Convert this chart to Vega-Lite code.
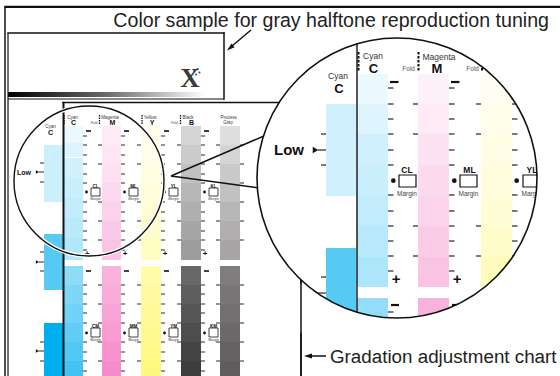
{
"$schema": "https://vega.github.io/schema/vega-lite/v6.json",
"width": 560, "height": 376, "autosize": {"type": "none"}, "padding": 0, "background": "white",
"config": {"view": {"stroke": null}, "text": {"font": "Liberation Sans"}},
"datasets": {
"R": [
{"x":64,"x2":83,"y":126,"y2":143,"ink":"C","d":8,"p":"s"},
{"x":64,"x2":83,"y":143,"y2":157,"ink":"C","d":14,"p":"s"},
{"x":64,"x2":83,"y":158,"y2":178,"ink":"C","d":18,"p":"s"},
{"x":64,"x2":83,"y":178,"y2":198,"ink":"C","d":21,"p":"s"},
{"x":64,"x2":83,"y":198,"y2":218,"ink":"C","d":24,"p":"s"},
{"x":64,"x2":83,"y":218,"y2":238,"ink":"C","d":27,"p":"s"},
{"x":64,"x2":83,"y":238,"y2":260,"ink":"C","d":30,"p":"s"},
{"x":64,"x2":83,"y":266,"y2":285,"ink":"C","d":44,"p":"s"},
{"x":64,"x2":83,"y":285,"y2":304,"ink":"C","d":50,"p":"s"},
{"x":64,"x2":83,"y":304,"y2":323,"ink":"C","d":56,"p":"s"},
{"x":64,"x2":83,"y":323,"y2":342,"ink":"C","d":62,"p":"s"},
{"x":64,"x2":83,"y":342,"y2":361,"ink":"C","d":68,"p":"s"},
{"x":64,"x2":83,"y":361,"y2":376,"ink":"C","d":74,"p":"s"},
{"x":102,"x2":121,"y":126,"y2":145,"ink":"M","d":8,"p":"s"},
{"x":102,"x2":121,"y":145,"y2":164,"ink":"M","d":10,"p":"s"},
{"x":102,"x2":121,"y":164,"y2":183,"ink":"M","d":12,"p":"s"},
{"x":102,"x2":121,"y":183,"y2":202,"ink":"M","d":15,"p":"s"},
{"x":102,"x2":121,"y":202,"y2":221,"ink":"M","d":18,"p":"s"},
{"x":102,"x2":121,"y":221,"y2":240,"ink":"M","d":21,"p":"s"},
{"x":102,"x2":121,"y":240,"y2":260,"ink":"M","d":24,"p":"s"},
{"x":102,"x2":121,"y":266,"y2":285,"ink":"M","d":30,"p":"s"},
{"x":102,"x2":121,"y":285,"y2":304,"ink":"M","d":33,"p":"s"},
{"x":102,"x2":121,"y":304,"y2":323,"ink":"M","d":36,"p":"s"},
{"x":102,"x2":121,"y":323,"y2":342,"ink":"M","d":39,"p":"s"},
{"x":102,"x2":121,"y":342,"y2":361,"ink":"M","d":42,"p":"s"},
{"x":102,"x2":121,"y":361,"y2":376,"ink":"M","d":45,"p":"s"},
{"x":141,"x2":161,"y":126,"y2":145,"ink":"Y","d":7,"p":"s"},
{"x":141,"x2":161,"y":145,"y2":164,"ink":"Y","d":9,"p":"s"},
{"x":141,"x2":161,"y":164,"y2":183,"ink":"Y","d":11,"p":"s"},
{"x":141,"x2":161,"y":183,"y2":202,"ink":"Y","d":14,"p":"s"},
{"x":141,"x2":161,"y":202,"y2":221,"ink":"Y","d":17,"p":"s"},
{"x":141,"x2":161,"y":221,"y2":240,"ink":"Y","d":20,"p":"s"},
{"x":141,"x2":161,"y":240,"y2":260,"ink":"Y","d":24,"p":"s"},
{"x":141,"x2":161,"y":266,"y2":285,"ink":"Y","d":34,"p":"s"},
{"x":141,"x2":161,"y":285,"y2":304,"ink":"Y","d":37,"p":"s"},
{"x":141,"x2":161,"y":304,"y2":323,"ink":"Y","d":40,"p":"s"},
{"x":141,"x2":161,"y":323,"y2":342,"ink":"Y","d":43,"p":"s"},
{"x":141,"x2":161,"y":342,"y2":361,"ink":"Y","d":47,"p":"s"},
{"x":141,"x2":161,"y":361,"y2":376,"ink":"Y","d":50,"p":"s"},
{"x":181,"x2":201,"y":126,"y2":145,"ink":"K","d":19,"p":"s"},
{"x":181,"x2":201,"y":145,"y2":164,"ink":"K","d":23,"p":"s"},
{"x":181,"x2":201,"y":164,"y2":183,"ink":"K","d":28,"p":"s"},
{"x":181,"x2":201,"y":183,"y2":202,"ink":"K","d":32,"p":"s"},
{"x":181,"x2":201,"y":202,"y2":221,"ink":"K","d":36,"p":"s"},
{"x":181,"x2":201,"y":221,"y2":240,"ink":"K","d":40,"p":"s"},
{"x":181,"x2":201,"y":240,"y2":260,"ink":"K","d":44,"p":"s"},
{"x":181,"x2":201,"y":266,"y2":285,"ink":"K","d":68,"p":"s"},
{"x":181,"x2":201,"y":285,"y2":304,"ink":"K","d":72,"p":"s"},
{"x":181,"x2":201,"y":304,"y2":323,"ink":"K","d":76,"p":"s"},
{"x":181,"x2":201,"y":323,"y2":342,"ink":"K","d":80,"p":"s"},
{"x":181,"x2":201,"y":342,"y2":361,"ink":"K","d":84,"p":"s"},
{"x":181,"x2":201,"y":361,"y2":376,"ink":"K","d":87,"p":"s"},
{"x":220,"x2":240,"y":126,"y2":145,"ink":"K","d":15,"p":"s"},
{"x":220,"x2":240,"y":145,"y2":164,"ink":"K","d":19,"p":"s"},
{"x":220,"x2":240,"y":164,"y2":183,"ink":"K","d":24,"p":"s"},
{"x":220,"x2":240,"y":183,"y2":202,"ink":"K","d":28,"p":"s"},
{"x":220,"x2":240,"y":202,"y2":221,"ink":"K","d":32,"p":"s"},
{"x":220,"x2":240,"y":221,"y2":240,"ink":"K","d":36,"p":"s"},
{"x":220,"x2":240,"y":240,"y2":260,"ink":"K","d":40,"p":"s"},
{"x":220,"x2":240,"y":266,"y2":285,"ink":"K","d":58,"p":"s"},
{"x":220,"x2":240,"y":285,"y2":304,"ink":"K","d":61,"p":"s"},
{"x":220,"x2":240,"y":304,"y2":323,"ink":"K","d":64,"p":"s"},
{"x":220,"x2":240,"y":323,"y2":342,"ink":"K","d":67,"p":"s"},
{"x":220,"x2":240,"y":342,"y2":361,"ink":"K","d":70,"p":"s"},
{"x":220,"x2":240,"y":361,"y2":376,"ink":"K","d":72,"p":"s"},
{"x":44,"x2":63,"y":145,"y2":202,"ink":"C","d":20,"p":"s"},
{"x":44,"x2":63,"y":234,"y2":290,"ink":"C","d":66,"p":"s"},
{"x":44,"x2":63,"y":323,"y2":376,"ink":"C","d":100,"p":"s"},
{"x":326,"x2":356,"y":104,"y2":196,"ink":"C","d":19,"p":"b"},
{"x":326,"x2":356,"y":248,"y2":325,"ink":"C","d":66,"p":"b"},
{"x":357,"x2":388,"y":74,"y2":104,"ink":"C","d":8,"p":"b"},
{"x":357,"x2":388,"y":104,"y2":134,"ink":"C","d":13,"p":"b"},
{"x":357,"x2":388,"y":134,"y2":165,"ink":"C","d":19,"p":"b"},
{"x":357,"x2":388,"y":165,"y2":196,"ink":"C","d":21,"p":"b"},
{"x":357,"x2":388,"y":196,"y2":226,"ink":"C","d":24,"p":"b"},
{"x":357,"x2":388,"y":226,"y2":257,"ink":"C","d":28,"p":"b"},
{"x":357,"x2":388,"y":257,"y2":287,"ink":"C","d":32,"p":"b"},
{"x":357,"x2":388,"y":298,"y2":325,"ink":"C","d":42,"p":"b"},
{"x":418,"x2":449,"y":74,"y2":104,"ink":"M","d":6,"p":"b"},
{"x":418,"x2":449,"y":104,"y2":134,"ink":"M","d":8,"p":"b"},
{"x":418,"x2":449,"y":134,"y2":165,"ink":"M","d":11,"p":"b"},
{"x":418,"x2":449,"y":165,"y2":196,"ink":"M","d":14,"p":"b"},
{"x":418,"x2":449,"y":196,"y2":226,"ink":"M","d":17,"p":"b"},
{"x":418,"x2":449,"y":226,"y2":257,"ink":"M","d":20,"p":"b"},
{"x":418,"x2":449,"y":257,"y2":287,"ink":"M","d":24,"p":"b"},
{"x":418,"x2":449,"y":298,"y2":325,"ink":"M","d":30,"p":"b"},
{"x":481,"x2":512,"y":74,"y2":104,"ink":"Y","d":5,"p":"b"},
{"x":481,"x2":512,"y":104,"y2":134,"ink":"Y","d":8,"p":"b"},
{"x":481,"x2":512,"y":134,"y2":165,"ink":"Y","d":10,"p":"b"},
{"x":481,"x2":512,"y":165,"y2":196,"ink":"Y","d":13,"p":"b"},
{"x":481,"x2":512,"y":196,"y2":226,"ink":"Y","d":16,"p":"b"},
{"x":481,"x2":512,"y":226,"y2":257,"ink":"Y","d":21,"p":"b"},
{"x":481,"x2":512,"y":257,"y2":287,"ink":"Y","d":27,"p":"b"}
],
"G": [{"x":8,"x2":205,"y":92,"y2":97}],
"F": [{"x":4.5,"x2":560,"y":5.8,"y2":8}],
"L": [
{"x":5,"y":7,"x2":5,"y2":376,"p":"f15"},
{"x":8,"y":33,"x2":224,"y2":33,"p":"f15"},
{"x":224,"y":33,"x2":224,"y2":99,"p":"f15"},
{"x":63,"y":102.5,"x2":301,"y2":102.5,"p":"f15"},
{"x":301,"y":102.5,"x2":301,"y2":376,"p":"f15"},
{"x":8,"y":33,"x2":8,"y2":376,"p":"f12"},
{"x":8,"y":99,"x2":224,"y2":99,"p":"f12"},
{"x":63.5,"y":102,"x2":63.5,"y2":376,"p":"f2"},
{"x":171,"y":176,"x2":264,"y2":136,"p":"w"},
{"x":171,"y":176,"x2":259,"y2":188,"p":"w"},
{"x":301,"y":280,"x2":301,"y2":376,"p":"post"},
{"x":251,"y":30,"x2":232,"y2":46,"p":"post"},
{"x":311,"y":356,"x2":326,"y2":356,"p":"post"},
{"x":83,"y":136,"x2":87,"y2":136,"p":"ts"},{"x":83,"y":145,"x2":87,"y2":145,"p":"ts"},{"x":83,"y":155,"x2":87,"y2":155,"p":"ts"},{"x":83,"y":164,"x2":87,"y2":164,"p":"ts"},{"x":83,"y":174,"x2":87,"y2":174,"p":"ts"},{"x":83,"y":183,"x2":87,"y2":183,"p":"ts"},{"x":83,"y":202,"x2":87,"y2":202,"p":"ts"},{"x":83,"y":212,"x2":87,"y2":212,"p":"ts"},{"x":83,"y":221,"x2":87,"y2":221,"p":"ts"},{"x":83,"y":231,"x2":87,"y2":231,"p":"ts"},{"x":83,"y":240,"x2":87,"y2":240,"p":"ts"},{"x":83,"y":250,"x2":87,"y2":250,"p":"ts"},
{"x":83,"y":285,"x2":87,"y2":285,"p":"ts"},{"x":83,"y":294,"x2":87,"y2":294,"p":"ts"},{"x":83,"y":304,"x2":87,"y2":304,"p":"ts"},{"x":83,"y":313,"x2":87,"y2":313,"p":"ts"},{"x":83,"y":323,"x2":87,"y2":323,"p":"ts"},{"x":83,"y":342,"x2":87,"y2":342,"p":"ts"},{"x":83,"y":352,"x2":87,"y2":352,"p":"ts"},{"x":83,"y":361,"x2":87,"y2":361,"p":"ts"},{"x":83,"y":371,"x2":87,"y2":371,"p":"ts"},
{"x":121,"y":136,"x2":125,"y2":136,"p":"ts"},{"x":121,"y":145,"x2":125,"y2":145,"p":"ts"},{"x":121,"y":155,"x2":125,"y2":155,"p":"ts"},{"x":121,"y":164,"x2":125,"y2":164,"p":"ts"},{"x":121,"y":174,"x2":125,"y2":174,"p":"ts"},{"x":121,"y":183,"x2":125,"y2":183,"p":"ts"},{"x":121,"y":202,"x2":125,"y2":202,"p":"ts"},{"x":121,"y":212,"x2":125,"y2":212,"p":"ts"},{"x":121,"y":221,"x2":125,"y2":221,"p":"ts"},{"x":121,"y":231,"x2":125,"y2":231,"p":"ts"},{"x":121,"y":240,"x2":125,"y2":240,"p":"ts"},{"x":121,"y":250,"x2":125,"y2":250,"p":"ts"},
{"x":121,"y":285,"x2":125,"y2":285,"p":"ts"},{"x":121,"y":294,"x2":125,"y2":294,"p":"ts"},{"x":121,"y":304,"x2":125,"y2":304,"p":"ts"},{"x":121,"y":313,"x2":125,"y2":313,"p":"ts"},{"x":121,"y":323,"x2":125,"y2":323,"p":"ts"},{"x":121,"y":342,"x2":125,"y2":342,"p":"ts"},{"x":121,"y":352,"x2":125,"y2":352,"p":"ts"},{"x":121,"y":361,"x2":125,"y2":361,"p":"ts"},{"x":121,"y":371,"x2":125,"y2":371,"p":"ts"},
{"x":161,"y":136,"x2":165,"y2":136,"p":"ts"},{"x":161,"y":145,"x2":165,"y2":145,"p":"ts"},{"x":161,"y":155,"x2":165,"y2":155,"p":"ts"},{"x":161,"y":164,"x2":165,"y2":164,"p":"ts"},{"x":161,"y":174,"x2":165,"y2":174,"p":"ts"},{"x":161,"y":183,"x2":165,"y2":183,"p":"ts"},{"x":161,"y":202,"x2":165,"y2":202,"p":"ts"},{"x":161,"y":212,"x2":165,"y2":212,"p":"ts"},{"x":161,"y":221,"x2":165,"y2":221,"p":"ts"},{"x":161,"y":231,"x2":165,"y2":231,"p":"ts"},{"x":161,"y":240,"x2":165,"y2":240,"p":"ts"},{"x":161,"y":250,"x2":165,"y2":250,"p":"ts"},
{"x":161,"y":285,"x2":165,"y2":285,"p":"ts"},{"x":161,"y":294,"x2":165,"y2":294,"p":"ts"},{"x":161,"y":304,"x2":165,"y2":304,"p":"ts"},{"x":161,"y":313,"x2":165,"y2":313,"p":"ts"},{"x":161,"y":323,"x2":165,"y2":323,"p":"ts"},{"x":161,"y":342,"x2":165,"y2":342,"p":"ts"},{"x":161,"y":352,"x2":165,"y2":352,"p":"ts"},{"x":161,"y":361,"x2":165,"y2":361,"p":"ts"},{"x":161,"y":371,"x2":165,"y2":371,"p":"ts"},
{"x":201,"y":136,"x2":205,"y2":136,"p":"ts"},{"x":201,"y":145,"x2":205,"y2":145,"p":"ts"},{"x":201,"y":155,"x2":205,"y2":155,"p":"ts"},{"x":201,"y":164,"x2":205,"y2":164,"p":"ts"},{"x":201,"y":174,"x2":205,"y2":174,"p":"ts"},{"x":201,"y":183,"x2":205,"y2":183,"p":"ts"},{"x":201,"y":202,"x2":205,"y2":202,"p":"ts"},{"x":201,"y":212,"x2":205,"y2":212,"p":"ts"},{"x":201,"y":221,"x2":205,"y2":221,"p":"ts"},{"x":201,"y":231,"x2":205,"y2":231,"p":"ts"},{"x":201,"y":240,"x2":205,"y2":240,"p":"ts"},{"x":201,"y":250,"x2":205,"y2":250,"p":"ts"},
{"x":201,"y":285,"x2":205,"y2":285,"p":"ts"},{"x":201,"y":294,"x2":205,"y2":294,"p":"ts"},{"x":201,"y":304,"x2":205,"y2":304,"p":"ts"},{"x":201,"y":313,"x2":205,"y2":313,"p":"ts"},{"x":201,"y":323,"x2":205,"y2":323,"p":"ts"},{"x":201,"y":342,"x2":205,"y2":342,"p":"ts"},{"x":201,"y":352,"x2":205,"y2":352,"p":"ts"},{"x":201,"y":361,"x2":205,"y2":361,"p":"ts"},{"x":201,"y":371,"x2":205,"y2":371,"p":"ts"},
{"x":240,"y":145,"x2":244,"y2":145,"p":"ts"},{"x":240,"y":164,"x2":244,"y2":164,"p":"ts"},{"x":240,"y":183,"x2":244,"y2":183,"p":"ts"},{"x":240,"y":202,"x2":244,"y2":202,"p":"ts"},{"x":240,"y":221,"x2":244,"y2":221,"p":"ts"},{"x":240,"y":240,"x2":244,"y2":240,"p":"ts"},{"x":240,"y":285,"x2":244,"y2":285,"p":"ts"},{"x":240,"y":304,"x2":244,"y2":304,"p":"ts"},{"x":240,"y":323,"x2":244,"y2":323,"p":"ts"},{"x":240,"y":342,"x2":244,"y2":342,"p":"ts"},{"x":240,"y":361,"x2":244,"y2":361,"p":"ts"},
{"x":98,"y":145,"x2":102,"y2":145,"p":"ts"},{"x":98,"y":164,"x2":102,"y2":164,"p":"ts"},{"x":98,"y":202,"x2":102,"y2":202,"p":"ts"},{"x":98,"y":221,"x2":102,"y2":221,"p":"ts"},{"x":98,"y":240,"x2":102,"y2":240,"p":"ts"},{"x":98,"y":285,"x2":102,"y2":285,"p":"ts"},{"x":98,"y":304,"x2":102,"y2":304,"p":"ts"},{"x":98,"y":323,"x2":102,"y2":323,"p":"ts"},{"x":98,"y":342,"x2":102,"y2":342,"p":"ts"},{"x":98,"y":361,"x2":102,"y2":361,"p":"ts"},
{"x":137,"y":145,"x2":141,"y2":145,"p":"ts"},{"x":137,"y":164,"x2":141,"y2":164,"p":"ts"},{"x":137,"y":202,"x2":141,"y2":202,"p":"ts"},{"x":137,"y":221,"x2":141,"y2":221,"p":"ts"},{"x":137,"y":240,"x2":141,"y2":240,"p":"ts"},{"x":137,"y":285,"x2":141,"y2":285,"p":"ts"},{"x":137,"y":304,"x2":141,"y2":304,"p":"ts"},{"x":137,"y":323,"x2":141,"y2":323,"p":"ts"},{"x":137,"y":342,"x2":141,"y2":342,"p":"ts"},{"x":137,"y":361,"x2":141,"y2":361,"p":"ts"},
{"x":177,"y":145,"x2":181,"y2":145,"p":"ts"},{"x":177,"y":164,"x2":181,"y2":164,"p":"ts"},{"x":177,"y":202,"x2":181,"y2":202,"p":"ts"},{"x":177,"y":221,"x2":181,"y2":221,"p":"ts"},{"x":177,"y":240,"x2":181,"y2":240,"p":"ts"},{"x":177,"y":285,"x2":181,"y2":285,"p":"ts"},{"x":177,"y":304,"x2":181,"y2":304,"p":"ts"},{"x":177,"y":323,"x2":181,"y2":323,"p":"ts"},{"x":177,"y":342,"x2":181,"y2":342,"p":"ts"},{"x":177,"y":361,"x2":181,"y2":361,"p":"ts"},
{"x":216,"y":145,"x2":220,"y2":145,"p":"ts"},{"x":216,"y":164,"x2":220,"y2":164,"p":"ts"},{"x":216,"y":202,"x2":220,"y2":202,"p":"ts"},{"x":216,"y":221,"x2":220,"y2":221,"p":"ts"},{"x":216,"y":240,"x2":220,"y2":240,"p":"ts"},{"x":216,"y":285,"x2":220,"y2":285,"p":"ts"},{"x":216,"y":304,"x2":220,"y2":304,"p":"ts"},{"x":216,"y":323,"x2":220,"y2":323,"p":"ts"},{"x":216,"y":342,"x2":220,"y2":342,"p":"ts"},{"x":216,"y":361,"x2":220,"y2":361,"p":"ts"},
{"x":40,"y":163,"x2":44,"y2":163,"p":"ts"},{"x":40,"y":182,"x2":44,"y2":182,"p":"ts"},{"x":40,"y":252,"x2":44,"y2":252,"p":"ts"},{"x":40,"y":271,"x2":44,"y2":271,"p":"ts"},{"x":40,"y":342,"x2":44,"y2":342,"p":"ts"},{"x":40,"y":361,"x2":44,"y2":361,"p":"ts"},
{"x":39,"y":172,"x2":44,"y2":172,"p":"ts"},{"x":39,"y":262,"x2":44,"y2":262,"p":"ts"},{"x":39,"y":351,"x2":44,"y2":351,"p":"ts"},
{"x":86,"y":131,"x2":91,"y2":131,"p":"ds"},{"x":124,"y":131,"x2":129,"y2":131,"p":"ds"},{"x":164,"y":131,"x2":169,"y2":131,"p":"ds"},{"x":204,"y":131,"x2":209,"y2":131,"p":"ds"},
{"x":86,"y":271,"x2":91,"y2":271,"p":"ds"},{"x":124,"y":271,"x2":129,"y2":271,"p":"ds"},{"x":164,"y":271,"x2":169,"y2":271,"p":"ds"},{"x":204,"y":271,"x2":209,"y2":271,"p":"ds"},
{"x":64,"y":115,"x2":64,"y2":124,"p":"fs"},{"x":99.5,"y":115,"x2":99.5,"y2":124,"p":"fs"},{"x":142,"y":115,"x2":142,"y2":124,"p":"fs"},{"x":180.5,"y":115,"x2":180.5,"y2":124,"p":"fs"},
{"x":357,"y":44,"x2":357,"y2":312,"p":"vb"},
{"x":358.5,"y":52,"x2":358.5,"y2":72,"p":"fb"},{"x":418.5,"y":52,"x2":418.5,"y2":72,"p":"fb"},{"x":482,"y":52,"x2":482,"y2":72,"p":"fb"},
{"x":390,"y":82,"x2":398.5,"y2":82,"p":"db"},{"x":451,"y":82,"x2":459.5,"y2":82,"p":"db"},{"x":514,"y":82,"x2":522.5,"y2":82,"p":"db"},{"x":391,"y":305,"x2":399,"y2":305,"p":"db"},{"x":452,"y":305,"x2":460,"y2":305,"p":"db"},
{"x":388,"y":88,"x2":393.5,"y2":88,"p":"tb"},{"x":388,"y":104,"x2":393.5,"y2":104,"p":"tb"},{"x":388,"y":119,"x2":393.5,"y2":119,"p":"tb"},{"x":388,"y":134,"x2":393.5,"y2":134,"p":"tb"},{"x":388,"y":150,"x2":393.5,"y2":150,"p":"tb"},{"x":388,"y":165,"x2":393.5,"y2":165,"p":"tb"},{"x":388,"y":195,"x2":393.5,"y2":195,"p":"tb"},{"x":388,"y":211,"x2":393.5,"y2":211,"p":"tb"},{"x":388,"y":226,"x2":393.5,"y2":226,"p":"tb"},{"x":388,"y":241,"x2":393.5,"y2":241,"p":"tb"},{"x":388,"y":256,"x2":393.5,"y2":256,"p":"tb"},{"x":388,"y":271,"x2":393.5,"y2":271,"p":"tb"},{"x":388,"y":312,"x2":393.5,"y2":312,"p":"tb"},
{"x":449,"y":88,"x2":454.5,"y2":88,"p":"tb"},{"x":449,"y":104,"x2":454.5,"y2":104,"p":"tb"},{"x":449,"y":119,"x2":454.5,"y2":119,"p":"tb"},{"x":449,"y":134,"x2":454.5,"y2":134,"p":"tb"},{"x":449,"y":150,"x2":454.5,"y2":150,"p":"tb"},{"x":449,"y":165,"x2":454.5,"y2":165,"p":"tb"},{"x":449,"y":195,"x2":454.5,"y2":195,"p":"tb"},{"x":449,"y":211,"x2":454.5,"y2":211,"p":"tb"},{"x":449,"y":226,"x2":454.5,"y2":226,"p":"tb"},{"x":449,"y":241,"x2":454.5,"y2":241,"p":"tb"},{"x":449,"y":256,"x2":454.5,"y2":256,"p":"tb"},{"x":449,"y":271,"x2":454.5,"y2":271,"p":"tb"},{"x":449,"y":312,"x2":454.5,"y2":312,"p":"tb"},
{"x":512,"y":88,"x2":517.5,"y2":88,"p":"tb"},{"x":512,"y":104,"x2":517.5,"y2":104,"p":"tb"},{"x":512,"y":119,"x2":517.5,"y2":119,"p":"tb"},{"x":512,"y":134,"x2":517.5,"y2":134,"p":"tb"},{"x":512,"y":150,"x2":517.5,"y2":150,"p":"tb"},{"x":512,"y":165,"x2":517.5,"y2":165,"p":"tb"},{"x":512,"y":195,"x2":517.5,"y2":195,"p":"tb"},{"x":512,"y":211,"x2":517.5,"y2":211,"p":"tb"},{"x":512,"y":226,"x2":517.5,"y2":226,"p":"tb"},{"x":512,"y":241,"x2":517.5,"y2":241,"p":"tb"},{"x":512,"y":256,"x2":517.5,"y2":256,"p":"tb"},{"x":512,"y":271,"x2":517.5,"y2":271,"p":"tb"},
{"x":413,"y":104,"x2":418,"y2":104,"p":"tb"},{"x":413,"y":134,"x2":418,"y2":134,"p":"tb"},{"x":413,"y":226,"x2":418,"y2":226,"p":"tb"},{"x":413,"y":256,"x2":418,"y2":256,"p":"tb"},
{"x":476,"y":104,"x2":481,"y2":104,"p":"tb"},{"x":476,"y":134,"x2":481,"y2":134,"p":"tb"},{"x":476,"y":226,"x2":481,"y2":226,"p":"tb"},{"x":476,"y":256,"x2":481,"y2":256,"p":"tb"},
{"x":321,"y":134,"x2":326,"y2":134,"p":"tb"},{"x":321,"y":165,"x2":326,"y2":165,"p":"tb"},{"x":321,"y":277,"x2":326,"y2":277,"p":"tb"},{"x":318,"y":150,"x2":326,"y2":150,"p":"tb"},{"x":318,"y":293,"x2":326,"y2":293,"p":"tb"}
],
"P": [
{"x":86.5,"y":192,"p":"dot_s"},{"x":124.5,"y":192,"p":"dot_s"},{"x":164.5,"y":192,"p":"dot_s"},{"x":204.5,"y":192,"p":"dot_s"},
{"x":86.5,"y":333,"p":"dot_s"},{"x":124.5,"y":333,"p":"dot_s"},{"x":164.5,"y":333,"p":"dot_s"},{"x":204.5,"y":333,"p":"dot_s"},
{"x":393.3,"y":180.7,"p":"dot_b"},{"x":454.3,"y":180.7,"p":"dot_b"},{"x":516.7,"y":180.7,"p":"dot_b"},
{"x":37.5,"y":172,"p":"tri_s"},{"x":37.5,"y":262,"p":"tri_s"},{"x":37.5,"y":351,"p":"tri_s"},
{"x":315.5,"y":150,"p":"tri_b"},{"x":315.5,"y":293,"p":"tri_b"},
{"x":194,"y":71,"p":"logo"},{"x":197.5,"y":69,"p":"logo"},{"x":199.5,"y":72.5,"p":"logo"},{"x":196,"y":74.5,"p":"logo"},
{"x":230,"y":48,"p":"ah1"},{"x":308,"y":356,"p":"ah2"}
],
"B": [
{"x":91,"x2":100,"y":188,"y2":196,"p":"s"},{"x":129,"x2":138,"y":188,"y2":196,"p":"s"},{"x":169,"x2":178,"y":188,"y2":196,"p":"s"},{"x":209,"x2":218,"y":188,"y2":196,"p":"s"},
{"x":91,"x2":100,"y":328,"y2":337,"p":"s"},{"x":129,"x2":138,"y":328,"y2":337,"p":"s"},{"x":169,"x2":178,"y":328,"y2":337,"p":"s"},{"x":209,"x2":218,"y":328,"y2":337,"p":"s"},
{"x":399,"x2":416,"y":175,"y2":187,"p":"b"},{"x":460,"x2":477,"y":175,"y2":187,"p":"b"},{"x":523,"x2":540,"y":175,"y2":187,"p":"b"}
],
"O": [{"x":89,"y":181,"p":"small"},{"x":397,"y":178,"p":"big"}],
"T": [
{"x":549,"y":27,"t":"Color sample for gray halftone reproduction tuning","p":"title"},
{"x":330,"y":363,"t":"Gradation adjustment chart","p":"grad"},
{"x":190,"y":87,"t":"X","p":"logo"},
{"x":72.5,"y":118.5,"t":"Cyan","p":"sl"},{"x":110,"y":118.5,"t":"Magenta","p":"sl"},{"x":150,"y":118.5,"t":"Yellow","p":"sl"},{"x":188,"y":118.5,"t":"Black","p":"sl"},{"x":228.5,"y":118.5,"t":"Process","p":"sl"},{"x":228,"y":124,"t":"Gray","p":"sl"},{"x":50.5,"y":128,"t":"Cyan","p":"sl"},
{"x":73.5,"y":124.5,"t":"C","p":"sL"},{"x":112.5,"y":124.5,"t":"M","p":"sL"},{"x":152,"y":124.5,"t":"Y","p":"sL"},{"x":191.5,"y":124.5,"t":"B","p":"sL"},{"x":50.5,"y":134.5,"t":"C","p":"sL"},
{"x":97.5,"y":124,"t":"Fold","p":"sF"},{"x":178,"y":124,"t":"Fold","p":"sF"},
{"x":95.5,"y":187.5,"t":"CL","p":"sB"},{"x":133.5,"y":187.5,"t":"ML","p":"sB"},{"x":173.5,"y":187.5,"t":"YL","p":"sB"},{"x":213.5,"y":187.5,"t":"KL","p":"sB"},
{"x":95.5,"y":327.5,"t":"CM","p":"sB"},{"x":133.5,"y":327.5,"t":"MM","p":"sB"},{"x":173.5,"y":327.5,"t":"YM","p":"sB"},{"x":213.5,"y":327.5,"t":"KM","p":"sB"},
{"x":95.5,"y":200,"t":"Margin","p":"sM"},{"x":133.5,"y":200,"t":"Margin","p":"sM"},{"x":173.5,"y":200,"t":"Margin","p":"sM"},{"x":213.5,"y":200,"t":"Margin","p":"sM"},
{"x":95.5,"y":341,"t":"Margin","p":"sM"},{"x":133.5,"y":341,"t":"Margin","p":"sM"},{"x":173.5,"y":341,"t":"Margin","p":"sM"},{"x":213.5,"y":341,"t":"Margin","p":"sM"},
{"x":87,"y":256,"t":"+","p":"sP"},{"x":125,"y":256,"t":"+","p":"sP"},{"x":165,"y":256,"t":"+","p":"sP"},{"x":205,"y":256,"t":"+","p":"sP"},
{"x":31,"y":174.5,"t":"Low","p":"sLow"},
{"x":373,"y":59,"t":"Cyan","p":"bl"},{"x":439,"y":59.5,"t":"Magenta","p":"bl"},{"x":338,"y":78.5,"t":"Cyan","p":"bl"},
{"x":373.5,"y":72.5,"t":"C","p":"bL"},{"x":437,"y":72.5,"t":"M","p":"bL"},{"x":339,"y":92.5,"t":"C","p":"bL"},
{"x":415,"y":70.5,"t":"Fold","p":"bF"},{"x":479,"y":70.5,"t":"Fold","p":"bF"},
{"x":407,"y":173,"t":"CL","p":"bB"},{"x":469.5,"y":173,"t":"ML","p":"bB"},{"x":532,"y":173,"t":"YL","p":"bB"},
{"x":407,"y":196,"t":"Margin","p":"bM"},{"x":468.5,"y":196,"t":"Margin","p":"bM"},{"x":531.5,"y":196,"t":"Margin","p":"bM"},
{"x":396,"y":284,"t":"+","p":"bP"},{"x":457,"y":284,"t":"+","p":"bP"},{"x":520,"y":284,"t":"+","p":"bP"},
{"x":304,"y":155,"t":"Low","p":"bLow"}
]
},
"encoding": {
"x": {"field": "x", "type": "quantitative", "scale": {"domain": [0, 560], "range": [0, 560], "nice": false, "zero": false}, "axis": null},
"y": {"field": "y", "type": "quantitative", "scale": {"domain": [0, 376], "range": [0, 376], "nice": false, "zero": false}, "axis": null}
},
"layer": [
{"data": {"name": "R"}, "transform": [{"filter": "datum.p == 's'"}], "mark": {"type": "rect", "strokeWidth": 0},
 "encoding": {"x2": {"field": "x2"}, "y2": {"field": "y2"},
  "color": {"field": "ink", "type": "nominal", "scale": {"domain": ["C", "M", "Y", "K"], "range": ["#00AEEF", "#EC008C", "#FFF200", "#231F20"]}, "legend": null},
  "opacity": {"field": "d", "type": "quantitative", "scale": {"domain": [0, 100], "range": [0, 1]}, "legend": null}}},
{"data": {"name": "G"}, "mark": {"type": "rect", "fill": {"gradient": "linear", "stops": [{"offset": 0, "color": "#000000"}, {"offset": 0.5, "color": "#6a6a6a"}, {"offset": 1, "color": "#ffffff"}]}},
 "encoding": {"x2": {"field": "x2"}, "y2": {"field": "y2"}}},
{"data": {"name": "L"}, "transform": [{"filter": "datum.p == 'f15'"}], "mark": {"type": "rule", "strokeWidth": 1.5, "color": "#111", "strokeCap": "square"}, "encoding": {"x2": {"field": "x2"}, "y2": {"field": "y2"}}},
{"data": {"name": "L"}, "transform": [{"filter": "datum.p == 'f12'"}], "mark": {"type": "rule", "strokeWidth": 1.2, "color": "#111"}, "encoding": {"x2": {"field": "x2"}, "y2": {"field": "y2"}}},
{"data": {"name": "L"}, "transform": [{"filter": "datum.p == 'f2'"}], "mark": {"type": "rule", "strokeWidth": 2, "color": "#111"}, "encoding": {"x2": {"field": "x2"}, "y2": {"field": "y2"}}},
{"data": {"name": "L"}, "transform": [{"filter": "datum.p == 'ts'"}], "mark": {"type": "rule", "strokeWidth": 0.9, "color": "#111"}, "encoding": {"x2": {"field": "x2"}, "y2": {"field": "y2"}}},
{"data": {"name": "L"}, "transform": [{"filter": "datum.p == 'ds'"}], "mark": {"type": "rule", "strokeWidth": 1.6, "color": "#111"}, "encoding": {"x2": {"field": "x2"}, "y2": {"field": "y2"}}},
{"data": {"name": "L"}, "transform": [{"filter": "datum.p == 'fs'"}], "mark": {"type": "rule", "strokeWidth": 1.3, "color": "#111", "strokeDash": [1.5, 1]}, "encoding": {"x2": {"field": "x2"}, "y2": {"field": "y2"}}},
{"data": {"name": "B"}, "transform": [{"filter": "datum.p == 's'"}], "mark": {"type": "rect", "fill": "white", "stroke": "#111", "strokeWidth": 0.8}, "encoding": {"x2": {"field": "x2"}, "y2": {"field": "y2"}}},
{"data": {"name": "P"}, "transform": [{"filter": "datum.p == 'dot_s'"}], "mark": {"type": "point", "shape": "circle", "filled": true, "color": "#111", "size": 8, "opacity": 1}},
{"data": {"name": "P"}, "transform": [{"filter": "datum.p == 'tri_s'"}], "mark": {"type": "point", "shape": "triangle-right", "filled": true, "color": "#111", "size": 14, "opacity": 1}},
{"data": {"name": "T"}, "transform": [{"filter": "datum.p == 'sl'"}], "mark": {"type": "text", "fontSize": 4.5, "align": "center", "baseline": "alphabetic", "color": "#333"}, "encoding": {"text": {"field": "t"}}},
{"data": {"name": "T"}, "transform": [{"filter": "datum.p == 'sL'"}], "mark": {"type": "text", "fontSize": 7, "fontWeight": "bold", "align": "center", "baseline": "alphabetic", "color": "#111"}, "encoding": {"text": {"field": "t"}}},
{"data": {"name": "T"}, "transform": [{"filter": "datum.p == 'sF'"}], "mark": {"type": "text", "fontSize": 3.5, "align": "right", "baseline": "alphabetic", "color": "#555"}, "encoding": {"text": {"field": "t"}}},
{"data": {"name": "T"}, "transform": [{"filter": "datum.p == 'sB'"}], "mark": {"type": "text", "fontSize": 4.5, "fontWeight": "bold", "align": "center", "baseline": "alphabetic", "color": "#111"}, "encoding": {"text": {"field": "t"}}},
{"data": {"name": "T"}, "transform": [{"filter": "datum.p == 'sM'"}], "mark": {"type": "text", "fontSize": 3.5, "align": "center", "baseline": "alphabetic", "color": "#444"}, "encoding": {"text": {"field": "t"}}},
{"data": {"name": "T"}, "transform": [{"filter": "datum.p == 'sP'"}], "mark": {"type": "text", "fontSize": 8, "fontWeight": "bold", "align": "center", "baseline": "alphabetic", "color": "#111"}, "encoding": {"text": {"field": "t"}}},
{"data": {"name": "T"}, "transform": [{"filter": "datum.p == 'sLow'"}], "mark": {"type": "text", "fontSize": 7, "fontWeight": "bold", "align": "right", "baseline": "alphabetic", "color": "#111"}, "encoding": {"text": {"field": "t"}}},
{"data": {"name": "T"}, "transform": [{"filter": "datum.p == 'logo'"}], "mark": {"type": "text", "font": "Liberation Serif", "fontSize": 27, "fontWeight": "bold", "align": "center", "baseline": "alphabetic", "color": "#3a3a3a"}, "encoding": {"text": {"field": "t"}}},
{"data": {"name": "P"}, "transform": [{"filter": "datum.p == 'logo'"}], "mark": {"type": "point", "shape": "square", "filled": true, "color": "#3a3a3a", "size": 3, "opacity": 1}},
{"data": {"name": "O"}, "transform": [{"filter": "datum.p == 'small'"}], "mark": {"type": "arc", "radius": 75, "theta": 0, "theta2": 6.2832, "filled": false, "stroke": "white", "strokeWidth": 4}},
{"data": {"name": "O"}, "transform": [{"filter": "datum.p == 'small'"}], "mark": {"type": "arc", "radius": 75, "theta": 0, "theta2": 6.2832, "filled": false, "stroke": "#111", "strokeWidth": 1.4}},
{"data": {"name": "L"}, "transform": [{"filter": "datum.p == 'w'"}], "mark": {"type": "rule", "strokeWidth": 1.5, "color": "#111"}, "encoding": {"x2": {"field": "x2"}, "y2": {"field": "y2"}}},
{"data": {"name": "O"}, "transform": [{"filter": "datum.p == 'big'"}], "mark": {"type": "arc", "radius": 140, "theta": 0, "theta2": 6.2832, "fill": "white", "strokeWidth": 0}},
{"data": {"name": "R"}, "transform": [{"filter": "datum.p == 'b'"}], "mark": {"type": "rect", "strokeWidth": 0},
 "encoding": {"x2": {"field": "x2"}, "y2": {"field": "y2"},
  "color": {"field": "ink", "type": "nominal", "scale": {"domain": ["C", "M", "Y", "K"], "range": ["#00AEEF", "#EC008C", "#FFF200", "#231F20"]}, "legend": null},
  "opacity": {"field": "d", "type": "quantitative", "scale": {"domain": [0, 100], "range": [0, 1]}, "legend": null}}},
{"data": {"name": "L"}, "transform": [{"filter": "datum.p == 'vb'"}], "mark": {"type": "rule", "strokeWidth": 1.4, "color": "#111"}, "encoding": {"x2": {"field": "x2"}, "y2": {"field": "y2"}}},
{"data": {"name": "L"}, "transform": [{"filter": "datum.p == 'tb'"}], "mark": {"type": "rule", "strokeWidth": 1.1, "color": "#111"}, "encoding": {"x2": {"field": "x2"}, "y2": {"field": "y2"}}},
{"data": {"name": "L"}, "transform": [{"filter": "datum.p == 'db'"}], "mark": {"type": "rule", "strokeWidth": 2.2, "color": "#111"}, "encoding": {"x2": {"field": "x2"}, "y2": {"field": "y2"}}},
{"data": {"name": "L"}, "transform": [{"filter": "datum.p == 'fb'"}], "mark": {"type": "rule", "strokeWidth": 2, "color": "#111", "strokeDash": [2.5, 1.5]}, "encoding": {"x2": {"field": "x2"}, "y2": {"field": "y2"}}},
{"data": {"name": "B"}, "transform": [{"filter": "datum.p == 'b'"}], "mark": {"type": "rect", "fill": "white", "stroke": "#111", "strokeWidth": 1.2}, "encoding": {"x2": {"field": "x2"}, "y2": {"field": "y2"}}},
{"data": {"name": "P"}, "transform": [{"filter": "datum.p == 'dot_b'"}], "mark": {"type": "point", "shape": "circle", "filled": true, "color": "#111", "size": 22, "opacity": 1}},
{"data": {"name": "P"}, "transform": [{"filter": "datum.p == 'tri_b'"}], "mark": {"type": "point", "shape": "triangle-right", "filled": true, "color": "#111", "size": 40, "opacity": 1}},
{"data": {"name": "T"}, "transform": [{"filter": "datum.p == 'bl'"}], "mark": {"type": "text", "fontSize": 8.5, "align": "center", "baseline": "alphabetic", "color": "#333"}, "encoding": {"text": {"field": "t"}}},
{"data": {"name": "T"}, "transform": [{"filter": "datum.p == 'bL'"}], "mark": {"type": "text", "fontSize": 13, "fontWeight": "bold", "align": "center", "baseline": "alphabetic", "color": "#111"}, "encoding": {"text": {"field": "t"}}},
{"data": {"name": "T"}, "transform": [{"filter": "datum.p == 'bF'"}], "mark": {"type": "text", "fontSize": 6.5, "align": "right", "baseline": "alphabetic", "color": "#555"}, "encoding": {"text": {"field": "t"}}},
{"data": {"name": "T"}, "transform": [{"filter": "datum.p == 'bB'"}], "mark": {"type": "text", "fontSize": 8.5, "fontWeight": "bold", "align": "center", "baseline": "alphabetic", "color": "#111"}, "encoding": {"text": {"field": "t"}}},
{"data": {"name": "T"}, "transform": [{"filter": "datum.p == 'bM'"}], "mark": {"type": "text", "fontSize": 6.5, "align": "center", "baseline": "alphabetic", "color": "#444"}, "encoding": {"text": {"field": "t"}}},
{"data": {"name": "T"}, "transform": [{"filter": "datum.p == 'bP'"}], "mark": {"type": "text", "fontSize": 15, "fontWeight": "bold", "align": "center", "baseline": "alphabetic", "color": "#111"}, "encoding": {"text": {"field": "t"}}},
{"data": {"name": "T"}, "transform": [{"filter": "datum.p == 'bLow'"}], "mark": {"type": "text", "fontSize": 15, "fontWeight": "bold", "align": "right", "baseline": "alphabetic", "color": "#111"}, "encoding": {"text": {"field": "t"}}},
{"data": {"name": "O"}, "transform": [{"filter": "datum.p == 'big'"}], "mark": {"type": "arc", "radius": 182, "radius2": 140.6, "theta": -0.15, "theta2": 3.88, "fill": "white", "strokeWidth": 0}},
{"data": {"name": "F"}, "mark": {"type": "rect", "fill": "#111", "strokeWidth": 0}, "encoding": {"x2": {"field": "x2"}, "y2": {"field": "y2"}}},
{"data": {"name": "L"}, "transform": [{"filter": "datum.p == 'post'"}], "mark": {"type": "rule", "strokeWidth": 1.5, "color": "#111"}, "encoding": {"x2": {"field": "x2"}, "y2": {"field": "y2"}}},
{"data": {"name": "P"}, "transform": [{"filter": "datum.p == 'ah1'"}], "mark": {"type": "point", "shape": "M0,-1L0.6,1L-0.6,1Z", "angle": 230, "filled": true, "color": "#111", "size": 64, "opacity": 1}},
{"data": {"name": "P"}, "transform": [{"filter": "datum.p == 'ah2'"}], "mark": {"type": "point", "shape": "M0,-1L0.6,1L-0.6,1Z", "angle": 270, "filled": true, "color": "#111", "size": 64, "opacity": 1}},
{"data": {"name": "T"}, "transform": [{"filter": "datum.p == 'title'"}], "mark": {"type": "text", "fontSize": 19.6, "align": "right", "baseline": "alphabetic", "color": "#222"}, "encoding": {"text": {"field": "t"}}},
{"data": {"name": "T"}, "transform": [{"filter": "datum.p == 'grad'"}], "mark": {"type": "text", "fontSize": 18.8, "align": "left", "baseline": "alphabetic", "color": "#222"}, "encoding": {"text": {"field": "t"}}},
{"data": {"name": "O"}, "transform": [{"filter": "datum.p == 'big'"}], "mark": {"type": "arc", "radius": 140, "theta": 0, "theta2": 6.2832, "filled": false, "stroke": "#111", "strokeWidth": 1.6}}
]
}
